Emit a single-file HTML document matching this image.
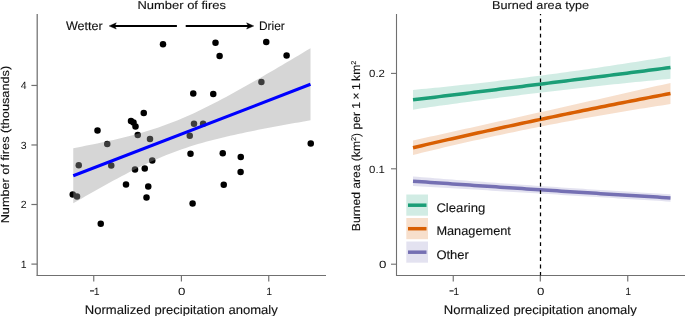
<!DOCTYPE html>
<html><head><meta charset="utf-8"><style>
html,body{margin:0;padding:0;background:#fff;}
body{width:685px;height:316px;overflow:hidden;font-family:"Liberation Sans",sans-serif;}
svg{display:block;will-change:transform;}
</style></head><body>
<svg width="685" height="316" viewBox="0 0 685 316" font-family='"Liberation Sans", sans-serif' fill="#111" text-rendering="geometricPrecision"><style>text{stroke:#111;stroke-width:0.12px;} text.t{stroke:none;}</style><circle cx="163" cy="44.25" r="3.25" fill="#000"/>
<circle cx="215.5" cy="42.75" r="3.25" fill="#000"/>
<circle cx="219.6" cy="56.1" r="3.25" fill="#000"/>
<circle cx="266.25" cy="41.9" r="3.25" fill="#000"/>
<circle cx="286.6" cy="55.4" r="3.25" fill="#000"/>
<circle cx="261.4" cy="81.9" r="3.25" fill="#000"/>
<circle cx="193.25" cy="93.4" r="3.25" fill="#000"/>
<circle cx="213.25" cy="94" r="3.25" fill="#000"/>
<circle cx="194" cy="123.75" r="3.25" fill="#000"/>
<circle cx="203.1" cy="123.75" r="3.25" fill="#000"/>
<circle cx="189.75" cy="135.75" r="3.25" fill="#000"/>
<circle cx="190.5" cy="153.75" r="3.25" fill="#000"/>
<circle cx="222.75" cy="153.25" r="3.25" fill="#000"/>
<circle cx="240.75" cy="157" r="3.25" fill="#000"/>
<circle cx="240.6" cy="171.9" r="3.25" fill="#000"/>
<circle cx="310.75" cy="143.5" r="3.25" fill="#000"/>
<circle cx="143.75" cy="113" r="3.25" fill="#000"/>
<circle cx="131" cy="121" r="3.25" fill="#000"/>
<circle cx="133.5" cy="122.5" r="3.25" fill="#000"/>
<circle cx="135.5" cy="126.5" r="3.25" fill="#000"/>
<circle cx="97.5" cy="130.5" r="3.25" fill="#000"/>
<circle cx="137.75" cy="135" r="3.25" fill="#000"/>
<circle cx="150" cy="139" r="3.25" fill="#000"/>
<circle cx="107.25" cy="144" r="3.25" fill="#000"/>
<circle cx="78.75" cy="165.25" r="3.25" fill="#000"/>
<circle cx="111.25" cy="165.6" r="3.25" fill="#000"/>
<circle cx="135" cy="169.4" r="3.25" fill="#000"/>
<circle cx="144.75" cy="168.6" r="3.25" fill="#000"/>
<circle cx="152.25" cy="160.5" r="3.25" fill="#000"/>
<circle cx="126" cy="184.5" r="3.25" fill="#000"/>
<circle cx="148.25" cy="186.5" r="3.25" fill="#000"/>
<circle cx="146.5" cy="197.5" r="3.25" fill="#000"/>
<circle cx="72.75" cy="194.5" r="3.25" fill="#000"/>
<circle cx="77" cy="196.5" r="3.25" fill="#000"/>
<circle cx="100.75" cy="223.75" r="3.25" fill="#000"/>
<circle cx="192.6" cy="203.4" r="3.25" fill="#000"/>
<circle cx="223.75" cy="184.75" r="3.25" fill="#000"/>
<path d="M73.25,148.21 L77.27,147.44 L81.29,146.66 L85.31,145.87 L89.33,145.07 L93.36,144.25 L97.38,143.42 L101.40,142.57 L105.42,141.70 L109.44,140.81 L113.46,139.90 L117.48,138.97 L121.50,138.01 L125.53,137.02 L129.55,135.99 L133.57,134.94 L137.59,133.84 L141.61,132.70 L145.63,131.52 L149.65,130.30 L153.67,129.02 L157.69,127.69 L161.72,126.30 L165.74,124.86 L169.76,123.36 L173.78,121.80 L177.80,120.18 L181.82,118.51 L185.84,116.78 L189.86,114.99 L193.89,113.15 L197.91,111.26 L201.93,109.33 L205.95,107.35 L209.97,105.33 L213.99,103.28 L218.01,101.19 L222.03,99.07 L226.06,96.92 L230.08,94.75 L234.10,92.55 L238.12,90.33 L242.14,88.09 L246.16,85.83 L250.18,83.56 L254.20,81.27 L258.22,78.97 L262.25,76.65 L266.27,74.33 L270.29,71.99 L274.31,69.65 L278.33,67.29 L282.35,64.93 L286.37,62.56 L290.39,60.18 L294.42,57.80 L298.44,55.41 L302.46,53.01 L306.48,50.61 L310.50,48.21 L310.50,120.29 L306.48,120.99 L302.46,121.69 L298.44,122.40 L294.42,123.11 L290.39,123.83 L286.37,124.55 L282.35,125.28 L278.33,126.02 L274.31,126.77 L270.29,127.53 L266.27,128.29 L262.25,129.07 L258.22,129.85 L254.20,130.65 L250.18,131.47 L246.16,132.29 L242.14,133.14 L238.12,134.00 L234.10,134.88 L230.08,135.79 L226.06,136.71 L222.03,137.67 L218.01,138.65 L213.99,139.66 L209.97,140.71 L205.95,141.79 L201.93,142.92 L197.91,144.08 L193.89,145.30 L189.86,146.56 L185.84,147.88 L181.82,149.25 L177.80,150.67 L173.78,152.16 L169.76,153.70 L165.74,155.30 L161.72,156.96 L157.69,158.68 L153.67,160.45 L149.65,162.27 L145.63,164.14 L141.61,166.07 L137.59,168.03 L133.57,170.04 L129.55,172.08 L125.53,174.16 L121.50,176.27 L117.48,178.41 L113.46,180.58 L109.44,182.77 L105.42,184.99 L101.40,187.22 L97.38,189.47 L93.36,191.74 L89.33,194.03 L85.31,196.33 L81.29,198.64 L77.27,200.96 L73.25,203.29Z" fill="#999" fill-opacity="0.4"/>
<line x1="73.25" y1="175.75" x2="310.5" y2="84.25" stroke="#00f" stroke-width="3.0"/>
<path d="M37.2,14 V275.5" fill="none" stroke="#707070" stroke-width="1.25"/>
<path d="M36.5,275.5 H326" fill="none" stroke="#707070" stroke-width="1.15"/>
<line x1="31.4" y1="85.45" x2="37.1" y2="85.45" stroke="#707070" stroke-width="1.2"/>
<text x="26.5" y="89.25" text-anchor="end" font-size="10.5" class="t">4</text>
<line x1="31.4" y1="144.97" x2="37.1" y2="144.97" stroke="#707070" stroke-width="1.2"/>
<text x="26.5" y="148.77" text-anchor="end" font-size="10.5" class="t">3</text>
<line x1="31.4" y1="204.5" x2="37.1" y2="204.5" stroke="#707070" stroke-width="1.2"/>
<text x="26.5" y="208.3" text-anchor="end" font-size="10.5" class="t">2</text>
<line x1="31.4" y1="264.1" x2="37.1" y2="264.1" stroke="#707070" stroke-width="1.2"/>
<text x="26.5" y="267.90000000000003" text-anchor="end" font-size="10.5" class="t">1</text>
<line x1="93.75" y1="275.5" x2="93.75" y2="281.5" stroke="#707070" stroke-width="1.15"/>
<rect x="90.00" y="290.3" width="4.1" height="1.2" fill="#222"/>
<text x="96.65" y="294.6" text-anchor="middle" font-size="10.5" class="t">1</text>
<line x1="181.4" y1="275.5" x2="181.4" y2="281.5" stroke="#707070" stroke-width="1.15"/>
<text x="181.70" y="294.6" text-anchor="middle" font-size="10.5" class="t" textLength="7.4" lengthAdjust="spacingAndGlyphs">0</text>
<line x1="268.75" y1="275.5" x2="268.75" y2="281.5" stroke="#707070" stroke-width="1.15"/>
<text x="269.25" y="294.6" text-anchor="middle" font-size="10.5" class="t">1</text>
<text x="181.25" y="313.8" text-anchor="middle" font-size="12.5" textLength="193" lengthAdjust="spacingAndGlyphs">Normalized precipitation anomaly</text>
<text transform="translate(9.4,144.6) rotate(-90)" text-anchor="middle" font-size="11.4" textLength="157.5" lengthAdjust="spacingAndGlyphs">Number of fires (thousands)</text>
<text x="181.75" y="9.1" text-anchor="middle" font-size="11.4" textLength="88.5" lengthAdjust="spacingAndGlyphs">Number of fires</text>
<text x="84.3" y="29.6" text-anchor="middle" font-size="12.2" textLength="36.8" lengthAdjust="spacingAndGlyphs">Wetter</text>
<text x="271.9" y="29.8" text-anchor="middle" font-size="12.2" textLength="25.8" lengthAdjust="spacingAndGlyphs">Drier</text>
<line x1="114" y1="25.9" x2="176.9" y2="25.9" stroke="#000" stroke-width="2"/>
<path d="M109.1,25.95 L116.3,22.85 L114.7,25.95 L116.3,29.05 Z" fill="#000" stroke="#000" stroke-width="0.4" stroke-linejoin="round"/>
<line x1="185.7" y1="25.9" x2="249" y2="25.9" stroke="#000" stroke-width="2"/>
<path d="M253.8,25.95 L246.6,22.85 L248.2,25.95 L246.6,29.05 Z" fill="#000" stroke="#000" stroke-width="0.4" stroke-linejoin="round"/>
<path d="M413.00,89.95 L417.36,89.53 L421.73,89.11 L426.09,88.69 L430.46,88.26 L434.82,87.82 L439.19,87.38 L443.55,86.93 L447.92,86.48 L452.28,86.02 L456.64,85.55 L461.01,85.08 L465.37,84.61 L469.74,84.13 L474.10,83.64 L478.47,83.15 L482.83,82.66 L487.19,82.16 L491.56,81.65 L495.92,81.14 L500.29,80.62 L504.65,80.10 L509.02,79.57 L513.38,79.04 L517.75,78.50 L522.11,77.95 L526.47,77.40 L530.84,76.85 L535.20,76.29 L539.57,75.72 L543.93,75.15 L548.30,74.57 L552.66,73.99 L557.03,73.40 L561.39,72.81 L565.75,72.21 L570.12,71.61 L574.48,71.00 L578.85,70.39 L583.21,69.77 L587.58,69.14 L591.94,68.51 L596.31,67.88 L600.67,67.24 L605.03,66.59 L609.40,65.94 L613.76,65.28 L618.13,64.62 L622.49,63.95 L626.86,63.28 L631.22,62.60 L635.58,61.91 L639.95,61.23 L644.31,60.53 L648.68,59.83 L653.04,59.13 L657.41,58.41 L661.77,57.70 L666.14,56.98 L670.50,56.25 L670.50,78.75 L666.14,79.16 L661.77,79.57 L657.41,79.98 L653.04,80.40 L648.68,80.83 L644.31,81.25 L639.95,81.68 L635.58,82.12 L631.22,82.56 L626.86,83.00 L622.49,83.45 L618.13,83.90 L613.76,84.36 L609.40,84.82 L605.03,85.28 L600.67,85.75 L596.31,86.22 L591.94,86.69 L587.58,87.17 L583.21,87.66 L578.85,88.14 L574.48,88.63 L570.12,89.13 L565.75,89.63 L561.39,90.13 L557.03,90.64 L552.66,91.15 L548.30,91.67 L543.93,92.19 L539.57,92.71 L535.20,93.24 L530.84,93.77 L526.47,94.31 L522.11,94.85 L517.75,95.39 L513.38,95.94 L509.02,96.49 L504.65,97.05 L500.29,97.61 L495.92,98.17 L491.56,98.74 L487.19,99.31 L482.83,99.89 L478.47,100.47 L474.10,101.05 L469.74,101.64 L465.37,102.23 L461.01,102.83 L456.64,103.43 L452.28,104.03 L447.92,104.64 L443.55,105.25 L439.19,105.87 L434.82,106.49 L430.46,107.11 L426.09,107.74 L421.73,108.37 L417.36,109.01 L413.00,109.65Z" fill="#1b9e77" fill-opacity="0.2"/>
<path d="M413.00,140.45 L417.36,139.49 L421.73,138.52 L426.09,137.56 L430.46,136.60 L434.82,135.63 L439.19,134.67 L443.55,133.70 L447.92,132.74 L452.28,131.77 L456.64,130.81 L461.01,129.84 L465.37,128.87 L469.74,127.90 L474.10,126.94 L478.47,125.97 L482.83,125.00 L487.19,124.03 L491.56,123.06 L495.92,122.09 L500.29,121.12 L504.65,120.15 L509.02,119.17 L513.38,118.20 L517.75,117.23 L522.11,116.26 L526.47,115.28 L530.84,114.31 L535.20,113.33 L539.57,112.36 L543.93,111.38 L548.30,110.41 L552.66,109.43 L557.03,108.45 L561.39,107.48 L565.75,106.50 L570.12,105.52 L574.48,104.54 L578.85,103.56 L583.21,102.58 L587.58,101.60 L591.94,100.62 L596.31,99.64 L600.67,98.66 L605.03,97.68 L609.40,96.70 L613.76,95.71 L618.13,94.73 L622.49,93.75 L626.86,92.76 L631.22,91.78 L635.58,90.80 L639.95,89.81 L644.31,88.82 L648.68,87.84 L653.04,86.85 L657.41,85.86 L661.77,84.88 L666.14,83.89 L670.50,82.90 L670.50,104.10 L666.14,104.75 L661.77,105.41 L657.41,106.08 L653.04,106.76 L648.68,107.44 L644.31,108.13 L639.95,108.83 L635.58,109.53 L631.22,110.24 L626.86,110.96 L622.49,111.69 L618.13,112.42 L613.76,113.16 L609.40,113.91 L605.03,114.66 L600.67,115.42 L596.31,116.19 L591.94,116.97 L587.58,117.75 L583.21,118.54 L578.85,119.34 L574.48,120.14 L570.12,120.95 L565.75,121.77 L561.39,122.60 L557.03,123.43 L552.66,124.27 L548.30,125.12 L543.93,125.97 L539.57,126.83 L535.20,127.70 L530.84,128.58 L526.47,129.46 L522.11,130.35 L517.75,131.25 L513.38,132.16 L509.02,133.07 L504.65,133.99 L500.29,134.91 L495.92,135.85 L491.56,136.79 L487.19,137.74 L482.83,138.69 L478.47,139.65 L474.10,140.62 L469.74,141.60 L465.37,142.58 L461.01,143.58 L456.64,144.57 L452.28,145.58 L447.92,146.59 L443.55,147.61 L439.19,148.64 L434.82,149.67 L430.46,150.71 L426.09,151.76 L421.73,152.82 L417.36,153.88 L413.00,154.95Z" fill="#d95f02" fill-opacity="0.2"/>
<path d="M413.00,176.45 L417.36,176.80 L421.73,177.15 L426.09,177.50 L430.46,177.85 L434.82,178.19 L439.19,178.54 L443.55,178.88 L447.92,179.22 L452.28,179.56 L456.64,179.89 L461.01,180.23 L465.37,180.56 L469.74,180.89 L474.10,181.22 L478.47,181.55 L482.83,181.87 L487.19,182.19 L491.56,182.52 L495.92,182.84 L500.29,183.15 L504.65,183.47 L509.02,183.79 L513.38,184.10 L517.75,184.41 L522.11,184.72 L526.47,185.02 L530.84,185.33 L535.20,185.63 L539.57,185.94 L543.93,186.24 L548.30,186.53 L552.66,186.83 L557.03,187.12 L561.39,187.42 L565.75,187.71 L570.12,188.00 L574.48,188.29 L578.85,188.57 L583.21,188.85 L587.58,189.14 L591.94,189.42 L596.31,189.69 L600.67,189.97 L605.03,190.25 L609.40,190.52 L613.76,190.79 L618.13,191.06 L622.49,191.33 L626.86,191.59 L631.22,191.86 L635.58,192.12 L639.95,192.38 L644.31,192.64 L648.68,192.89 L653.04,193.15 L657.41,193.40 L661.77,193.65 L666.14,193.90 L670.50,194.15 L670.50,201.65 L666.14,201.38 L661.77,201.10 L657.41,200.83 L653.04,200.55 L648.68,200.28 L644.31,200.01 L639.95,199.74 L635.58,199.46 L631.22,199.19 L626.86,198.92 L622.49,198.65 L618.13,198.38 L613.76,198.11 L609.40,197.83 L605.03,197.56 L600.67,197.29 L596.31,197.02 L591.94,196.76 L587.58,196.49 L583.21,196.22 L578.85,195.95 L574.48,195.68 L570.12,195.41 L565.75,195.14 L561.39,194.88 L557.03,194.61 L552.66,194.34 L548.30,194.08 L543.93,193.81 L539.57,193.54 L535.20,193.28 L530.84,193.01 L526.47,192.75 L522.11,192.48 L517.75,192.22 L513.38,191.95 L509.02,191.69 L504.65,191.42 L500.29,191.16 L495.92,190.90 L491.56,190.63 L487.19,190.37 L482.83,190.11 L478.47,189.85 L474.10,189.59 L469.74,189.32 L465.37,189.06 L461.01,188.80 L456.64,188.54 L452.28,188.28 L447.92,188.02 L443.55,187.76 L439.19,187.50 L434.82,187.24 L430.46,186.98 L426.09,186.72 L421.73,186.47 L417.36,186.21 L413.00,185.95Z" fill="#7570b3" fill-opacity="0.2"/>
<path d="M413.00,99.80 L417.36,99.27 L421.73,98.74 L426.09,98.21 L430.46,97.68 L434.82,97.15 L439.19,96.62 L443.55,96.09 L447.92,95.56 L452.28,95.02 L456.64,94.49 L461.01,93.96 L465.37,93.42 L469.74,92.88 L474.10,92.35 L478.47,91.81 L482.83,91.27 L487.19,90.73 L491.56,90.19 L495.92,89.65 L500.29,89.11 L504.65,88.57 L509.02,88.03 L513.38,87.49 L517.75,86.94 L522.11,86.40 L526.47,85.86 L530.84,85.31 L535.20,84.76 L539.57,84.22 L543.93,83.67 L548.30,83.12 L552.66,82.57 L557.03,82.02 L561.39,81.47 L565.75,80.92 L570.12,80.37 L574.48,79.82 L578.85,79.27 L583.21,78.71 L587.58,78.16 L591.94,77.60 L596.31,77.05 L600.67,76.49 L605.03,75.93 L609.40,75.38 L613.76,74.82 L618.13,74.26 L622.49,73.70 L626.86,73.14 L631.22,72.58 L635.58,72.02 L639.95,71.45 L644.31,70.89 L648.68,70.33 L653.04,69.76 L657.41,69.20 L661.77,68.63 L666.14,68.07 L670.50,67.50" fill="none" stroke="#1b9e77" stroke-width="3.5"/>
<path d="M413.00,147.70 L417.36,146.68 L421.73,145.67 L426.09,144.66 L430.46,143.66 L434.82,142.65 L439.19,141.65 L443.55,140.66 L447.92,139.66 L452.28,138.68 L456.64,137.69 L461.01,136.71 L465.37,135.73 L469.74,134.75 L474.10,133.78 L478.47,132.81 L482.83,131.84 L487.19,130.88 L491.56,129.92 L495.92,128.97 L500.29,128.02 L504.65,127.07 L509.02,126.12 L513.38,125.18 L517.75,124.24 L522.11,123.30 L526.47,122.37 L530.84,121.44 L535.20,120.52 L539.57,119.60 L543.93,118.68 L548.30,117.76 L552.66,116.85 L557.03,115.94 L561.39,115.04 L565.75,114.14 L570.12,113.24 L574.48,112.34 L578.85,111.45 L583.21,110.56 L587.58,109.68 L591.94,108.79 L596.31,107.92 L600.67,107.04 L605.03,106.17 L609.40,105.30 L613.76,104.44 L618.13,103.58 L622.49,102.72 L626.86,101.86 L631.22,101.01 L635.58,100.16 L639.95,99.32 L644.31,98.48 L648.68,97.64 L653.04,96.80 L657.41,95.97 L661.77,95.15 L666.14,94.32 L670.50,93.50" fill="none" stroke="#d95f02" stroke-width="3.5"/>
<path d="M413.00,181.20 L417.36,181.51 L421.73,181.81 L426.09,182.11 L430.46,182.42 L434.82,182.72 L439.19,183.02 L443.55,183.32 L447.92,183.62 L452.28,183.92 L456.64,184.22 L461.01,184.51 L465.37,184.81 L469.74,185.11 L474.10,185.40 L478.47,185.70 L482.83,185.99 L487.19,186.28 L491.56,186.58 L495.92,186.87 L500.29,187.16 L504.65,187.45 L509.02,187.74 L513.38,188.03 L517.75,188.31 L522.11,188.60 L526.47,188.89 L530.84,189.17 L535.20,189.46 L539.57,189.74 L543.93,190.02 L548.30,190.30 L552.66,190.59 L557.03,190.87 L561.39,191.15 L565.75,191.43 L570.12,191.70 L574.48,191.98 L578.85,192.26 L583.21,192.54 L587.58,192.81 L591.94,193.09 L596.31,193.36 L600.67,193.63 L605.03,193.91 L609.40,194.18 L613.76,194.45 L618.13,194.72 L622.49,194.99 L626.86,195.26 L631.22,195.52 L635.58,195.79 L639.95,196.06 L644.31,196.32 L648.68,196.59 L653.04,196.85 L657.41,197.11 L661.77,197.38 L666.14,197.64 L670.50,197.90" fill="none" stroke="#7570b3" stroke-width="3.5"/>
<path d="M396.5,14 V275.5 H685" fill="none" stroke="#707070" stroke-width="1.1"/>
<line x1="391" y1="73.4" x2="396.5" y2="73.4" stroke="#707070" stroke-width="1.1"/>
<text x="385.0" y="77.10000000000001" text-anchor="end" font-size="10.5" class="t" textLength="15.9" lengthAdjust="spacingAndGlyphs">0.2</text>
<line x1="391" y1="168.8" x2="396.5" y2="168.8" stroke="#707070" stroke-width="1.1"/>
<text x="385.0" y="172.5" text-anchor="end" font-size="10.5" class="t" textLength="15.9" lengthAdjust="spacingAndGlyphs">0.1</text>
<line x1="391" y1="264.2" x2="396.5" y2="264.2" stroke="#707070" stroke-width="1.1"/>
<text x="386.4" y="267.9" text-anchor="end" font-size="10.5" class="t" textLength="7.4" lengthAdjust="spacingAndGlyphs">0</text>
<line x1="453.25" y1="275.5" x2="453.25" y2="281.5" stroke="#707070" stroke-width="1.15"/>
<rect x="449.50" y="290.3" width="4.1" height="1.2" fill="#222"/>
<text x="456.15" y="294.6" text-anchor="middle" font-size="10.5" class="t">1</text>
<line x1="540.3" y1="275.5" x2="540.3" y2="281.5" stroke="#707070" stroke-width="1.15"/>
<text x="540.60" y="294.6" text-anchor="middle" font-size="10.5" class="t" textLength="7.4" lengthAdjust="spacingAndGlyphs">0</text>
<line x1="627.75" y1="275.5" x2="627.75" y2="281.5" stroke="#707070" stroke-width="1.15"/>
<text x="628.25" y="294.6" text-anchor="middle" font-size="10.5" class="t">1</text>
<text x="540.25" y="313.8" text-anchor="middle" font-size="12.5" textLength="193" lengthAdjust="spacingAndGlyphs">Normalized precipitation anomaly</text>
<text x="540.6" y="9.1" text-anchor="middle" font-size="11.4" textLength="97" lengthAdjust="spacingAndGlyphs">Burned area type</text>
<text transform="translate(360,145.9) rotate(-90)" text-anchor="middle" font-size="11.6" textLength="170.5" lengthAdjust="spacingAndGlyphs">Burned area (km<tspan font-size="7" dy="-4.5">2</tspan><tspan dy="4.5">) per 1 × 1 km</tspan><tspan font-size="7" dy="-4.5">2</tspan></text>
<line x1="540.5" y1="14" x2="540.5" y2="275.5" stroke="#000" stroke-width="1.25" stroke-dasharray="3.8 3.645" stroke-dashoffset="2.545"/>
<rect x="406.3" y="194.5" width="21.7" height="21.2" fill="#1b9e77" fill-opacity="0.2"/>
<line x1="408" y1="205.2" x2="426.5" y2="205.2" stroke="#1b9e77" stroke-width="3.5"/>
<text x="436.4" y="211.8" font-size="12.5" textLength="48.9" lengthAdjust="spacingAndGlyphs">Clearing</text>
<rect x="406.3" y="218.0" width="21.7" height="21.2" fill="#d95f02" fill-opacity="0.2"/>
<line x1="408" y1="228.7" x2="426.5" y2="228.7" stroke="#d95f02" stroke-width="3.5"/>
<text x="436.4" y="235.3" font-size="12.5" textLength="74.5" lengthAdjust="spacingAndGlyphs">Management</text>
<rect x="406.3" y="241.5" width="21.7" height="21.2" fill="#7570b3" fill-opacity="0.2"/>
<line x1="408" y1="252.2" x2="426.5" y2="252.2" stroke="#7570b3" stroke-width="3.5"/>
<text x="436.4" y="258.8" font-size="12.5" textLength="32.5" lengthAdjust="spacingAndGlyphs">Other</text></svg>
</body></html>
